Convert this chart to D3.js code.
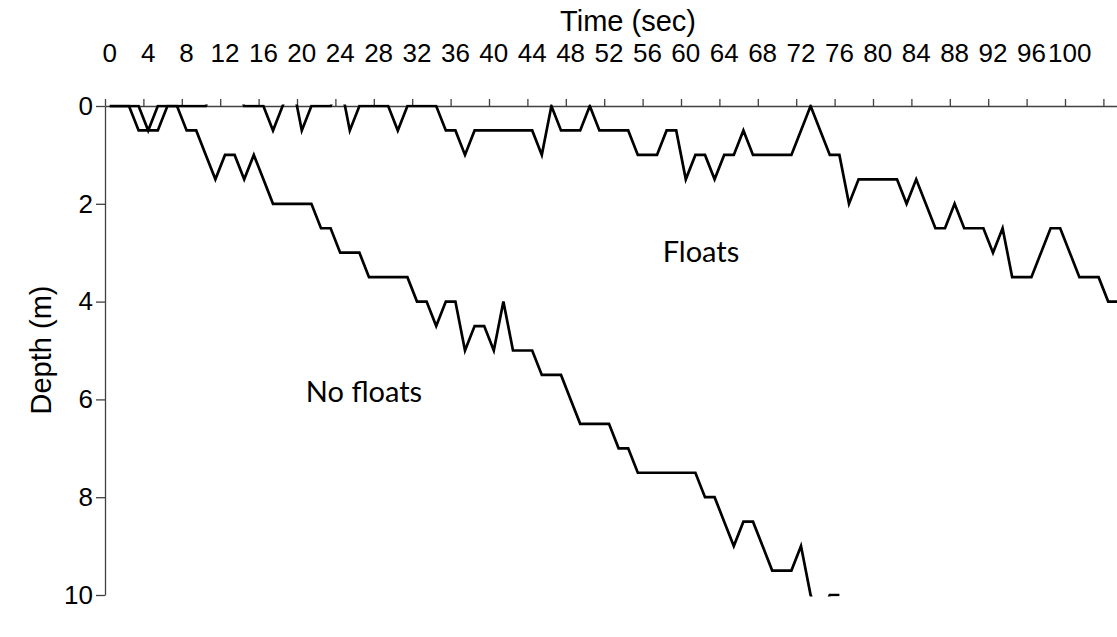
<!DOCTYPE html>
<html>
<head>
<meta charset="utf-8">
<script src="https://cdn.jsdelivr.net/npm/d3@7"></script>
<style>
  html, body { margin: 0; padding: 0; background: #ffffff; }
  svg { display: block; }
</style>
</head>
<body>
<svg id="chart" width="1117" height="637"></svg>
<script>
// ---- data ----
const times = [0,1,2,3,4,5,6,7,8,9,10,11,12,13,14,15,16,17,18,19,20,21,22,23,24,25,26,27,28,29,
  30,31,32,33,34,35,36,37,38,39,40,41,42,43,44,45,46,47,48,49,50,51,52,53,54,55,56,57,58,59,
  60,61,62,63,64,65,66,67,68,69,70,71,72,73,74,75,76,77,78,79,80,81,82,83,84,85,86,87,88,89,
  90,91,92,93,94,95,96,97,98,99,100,101,102,103,104,105];

const floatsDepth = [0,0,0,0.5,0.5,0.5,0,0,0,0,0,-0.5,-0.5,-0.5,0,0,0,0.5,0,-0.5,
  0.5,0,0,0,-0.5,0.5,0,0,0,0,0.5,0,0,0,0,0.5,0.5,1,0.5,0.5,
  0.5,0.5,0.5,0.5,0.5,1,0,0.5,0.5,0.5,0,0.5,0.5,0.5,0.5,1,1,1,0.5,0.5,
  1.5,1,1,1.5,1,1,0.5,1,1,1,1,1,0.5,0,0.5,1,1,2,1.5,1.5,
  1.5,1.5,1.5,2,1.5,2,2.5,2.5,2,2.5,2.5,2.5,3,2.5,3.5,3.5,3.5,3,2.5,2.5,
  3,3.5,3.5,3.5,4,4];

const noFloatsDepth = [0,0,0,0,0.5,0,0,0,0.5,0.5,1,1.5,1,1,1.5,1,1.5,2,2,2,
  2,2,2.5,2.5,3,3,3,3.5,3.5,3.5,3.5,3.5,4,4,4.5,4,4,5,4.5,4.5,
  5,4,5,5,5,5.5,5.5,5.5,6,6.5,6.5,6.5,6.5,7,7,7.5,7.5,7.5,7.5,7.5,
  7.5,7.5,8,8,8.5,9,8.5,8.5,9,9.5,9.5,9.5,9,10,10.5,10,10];

const xTickLabels = [0,4,8,12,16,20,24,28,32,36,40,44,48,52,56,60,64,68,72,76,80,84,88,92,96,100];
const xTickMarks = [0,4,8,12,16,20,24,28,32,36,40,44,48,52,56,60,64,68,72,76,80,84,88,92,96,100,104];
const yTicks = [0,2,4,6,8,10];

const xTitle = "Time (sec)";
const yTitle = "Depth (m)";
const seriesLabels = ["Floats", "No floats"];

// ---- layout ----
const plotLeft = 105, plotTop = 106, plotBottom = 595;
const step = 9.6;
const plotRight = plotLeft + step * times.length;

const svg = d3.select("#chart");
const x = d3.scaleBand().domain(times).range([plotLeft, plotRight]).paddingInner(0).paddingOuter(0);
const xEdge = d3.scaleLinear().domain([0, times.length]).range([plotLeft, plotRight]);
const y = d3.scaleLinear().domain([0, 10]).range([plotTop, plotBottom]);

const axisColor = "#404040";
const fontAxis = "Liberation Sans, Arial, Helvetica, sans-serif";

// clip
svg.append("defs").append("clipPath").attr("id", "plotclip")
  .append("rect").attr("x", plotLeft).attr("y", plotTop - 1.5)
  .attr("width", plotRight - plotLeft).attr("height", plotBottom - plotTop + 3);

// x axis labels (band centres)
const gxl = svg.append("g").attr("transform", `translate(0,${plotTop})`)
  .call(d3.axisTop(x).tickValues(xTickLabels).tickSize(0).tickPadding(44).tickSizeOuter(0));
gxl.select(".domain").attr("stroke", axisColor).attr("stroke-width", 1.3);
gxl.selectAll("text").attr("font-family", fontAxis).attr("font-size", 26).attr("fill", "#000");

// x axis tick marks (band edges)
const gxt = svg.append("g").attr("transform", `translate(0,${plotTop})`)
  .call(d3.axisTop(xEdge).tickValues(xTickMarks).tickSize(7).tickFormat(""));
gxt.select(".domain").remove();
gxt.selectAll("line").attr("stroke", axisColor).attr("stroke-width", 1.3);

// y axis
const gy = svg.append("g").attr("transform", `translate(${plotLeft},0)`)
  .call(d3.axisLeft(y).tickValues(yTicks).tickSize(9).tickPadding(3).tickSizeOuter(0));
gy.select(".domain").attr("stroke", axisColor).attr("stroke-width", 1.3);
gy.selectAll("line").attr("stroke", axisColor).attr("stroke-width", 1.3);
gy.selectAll("text").attr("font-family", fontAxis).attr("font-size", 26).attr("fill", "#000");

// titles
svg.append("text").attr("x", 628).attr("y", 31).attr("text-anchor", "middle")
  .attr("font-family", fontAxis).attr("font-size", 29).attr("fill", "#000").text(xTitle);
svg.append("text").attr("transform", "translate(51,350) rotate(-90)").attr("text-anchor", "middle")
  .attr("font-family", fontAxis).attr("font-size", 29).attr("fill", "#000").text(yTitle);

// lines
const line = d3.line()
  .defined(d => d[1] !== null)
  .x(d => x(d[0]) + x.bandwidth() / 2)
  .y(d => y(d[1]));

const plot = svg.append("g").attr("clip-path", "url(#plotclip)");
[floatsDepth, noFloatsDepth].forEach(series => {
  plot.append("path")
    .datum(series.map((v, i) => [times[i], v]))
    .attr("fill", "none")
    .attr("stroke", "#000")
    .attr("stroke-width", 2.7)
    .attr("stroke-linejoin", "miter")
    .attr("d", line);
});

// series annotations
const fontNote = "Lato, 'Open Sans', sans-serif";
svg.append("text").attr("x", 701).attr("y", 262).attr("text-anchor", "middle")
  .attr("font-family", fontNote).attr("font-size", 29).attr("fill", "#000").text(seriesLabels[0]);
svg.append("text").attr("x", 364).attr("y", 402).attr("text-anchor", "middle")
  .attr("font-family", fontNote).attr("font-size", 29).attr("fill", "#000").text(seriesLabels[1]);
</script>
</body>
</html>
